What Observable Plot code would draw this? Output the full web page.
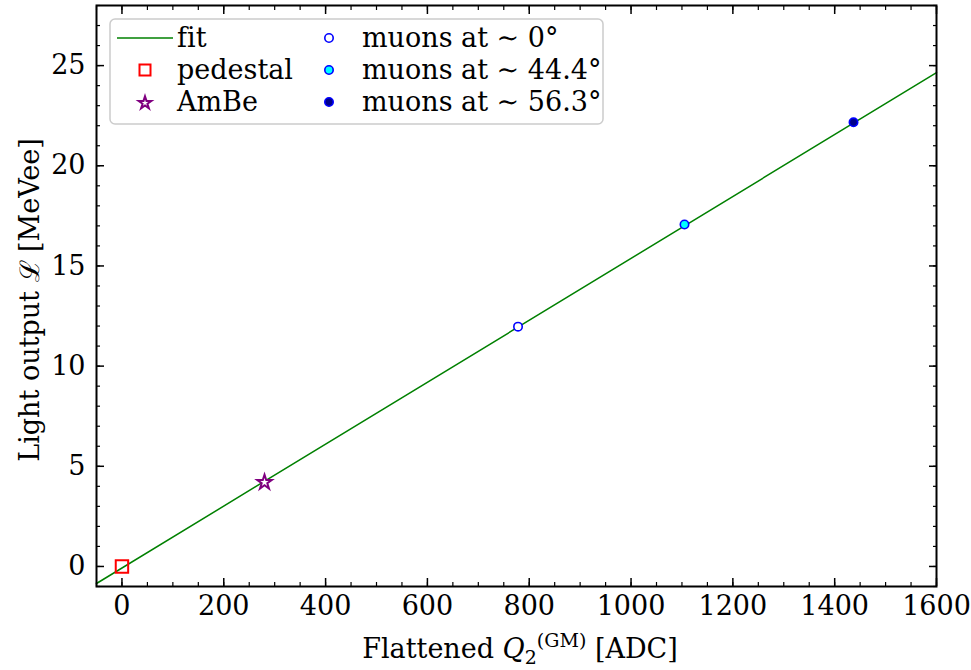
<!DOCTYPE html>
<html><head><meta charset="utf-8">
<script src="https://cdn.jsdelivr.net/npm/d3@7"></script>
<script src="https://cdn.jsdelivr.net/npm/@observablehq/plot@0.6"></script>
<style>
body{margin:0;background:#fff;}
#wrap{position:relative;width:971px;height:670px;}
svg, svg text{font-family:"DejaVu Serif",serif !important;font-variant-ligatures:none;}
</style></head><body><div id="wrap"></div>
<script>
// fit line end points
const fitX = [-50, 1600];
const fitY = [-0.85, 24.65];
// calibration points
const pointLabels = ["pedestal", "AmBe", "muons at ∼ 0°", "muons at ∼ 44.4°", "muons at ∼ 56.3°"];
const pointX = [0, 280, 778, 1105, 1437];
const pointY = [0, 4.2, 11.97, 17.07, 22.17];
const pointSymbol = ["square", "star", "circle", "circle", "circle"];
const pointFill = ["none", "white", "white", "#00ffff", "#00008b"];
const pointStroke = ["red", "purple", "blue", "blue", "blue"];
// ticks
const xTicks = [0, 200, 400, 600, 800, 1000, 1200, 1400, 1600];
const yTicks = [0, 5, 10, 15, 20, 25];
const xMinor = d3.range(-50, 1601, 50);
const yMinor = d3.range(-1, 29, 1);

const fit = fitX.map((x, i) => ({x, y: fitY[i]}));
const pts = pointX.map((x, i) => ({label: pointLabels[i], x, y: pointY[i], symbol: pointSymbol[i], fill: pointFill[i], stroke: pointStroke[i]}));

const fs = 27;
const ff = "DejaVu Serif";
const chart = Plot.plot({
  width: 971, height: 670,
  marginLeft: 96, marginRight: 35, marginTop: 5, marginBottom: 84,
  style: {fontFamily: "'DejaVu Serif', serif", fontSize: fs + "px", color: "black", background: "white"},
  x: {domain: [-50, 1600]},
  y: {domain: [-1, 28]},
  marks: [
    Plot.line(fit, {x: "x", y: "y", stroke: "green", strokeWidth: 1.5}),
    Plot.dot(pts.filter(d => d.symbol === "square"), {x: "x", y: "y", symbol: "square", r: 7, fill: "none", stroke: d => d.stroke, strokeWidth: 2}),
    Plot.dot(pts.filter(d => d.symbol === "star"), {x: "x", y: "y", symbol: "star", r: 4.6, fill: d => d.fill, stroke: d => d.stroke, strokeWidth: 2}),
    Plot.dot(pts.filter(d => d.symbol === "circle"), {x: "x", y: "y", r: 4.2, fill: d => d.fill, stroke: d => d.stroke, strokeWidth: 1.6}),
    Plot.axisX({ticks: xTicks, tickSize: -8, tickPadding: 17, tickFormat: d => String(d), label: null, strokeWidth: 1.5, fontSize: fs, fontFamily: ff}),
    Plot.axisX({ticks: xMinor, tickSize: -4, text: null, label: null, strokeWidth: 1.2}),
    Plot.axisX({anchor: "top", ticks: xTicks, tickSize: -8, text: null, label: null, strokeWidth: 1.5}),
    Plot.axisX({anchor: "top", ticks: xMinor, tickSize: -4, text: null, label: null, strokeWidth: 1.2}),
    Plot.axisY({ticks: yTicks, tickSize: -8, tickPadding: 19, tickFormat: d => String(d), label: null, strokeWidth: 1.5, fontSize: fs, fontFamily: ff}),
    Plot.axisY({ticks: yMinor, tickSize: -4, text: null, label: null, strokeWidth: 1.2}),
    Plot.axisY({anchor: "right", ticks: yTicks, tickSize: -8, text: null, label: null, strokeWidth: 1.5}),
    Plot.axisY({anchor: "right", ticks: yMinor, tickSize: -4, text: null, label: null, strokeWidth: 1.2}),
    Plot.frame({stroke: "black", strokeWidth: 2})
  ]
});
document.getElementById("wrap").appendChild(chart);

const svg = d3.select(chart);
// axis labels
const xl = svg.append("text").attr("x", 520).attr("y", 658).attr("text-anchor", "middle")
  .attr("font-family", ff).attr("font-size", fs + "px").attr("fill", "black");
xl.append("tspan").text("Flattened ");
xl.append("tspan").attr("font-style", "italic").text("Q");
xl.append("tspan").attr("font-size", "19px").attr("dy", 6).text("2");
xl.append("tspan").attr("font-size", "19px").attr("dy", -17).attr("dx", 0).text("(GM)");
xl.append("tspan").attr("dy", 11).text(" [ADC]");

svg.append("text").attr("transform", "translate(39,300) rotate(-90)").attr("text-anchor", "middle")
  .attr("font-family", ff).attr("font-size", fs + "px").attr("fill", "black").text("Light output ℒ [MeVee]");

// legend
const lg = svg.append("g").attr("transform", "translate(110,19)");
lg.append("rect").attr("width", 493).attr("height", 105).attr("rx", 5)
  .attr("fill", "white").attr("fill-opacity", 0.8).attr("stroke", "#cccccc").attr("stroke-width", 1.5);
const rows = [
  {kind: "line", label: "fit", col: 0, row: 0},
  {kind: "square", label: pointLabels[0], col: 0, row: 1, stroke: pointStroke[0], fill: "none"},
  {kind: "star", label: pointLabels[1], col: 0, row: 2, stroke: pointStroke[1], fill: pointFill[1]},
  {kind: "circle", label: pointLabels[2], col: 1, row: 0, stroke: pointStroke[2], fill: pointFill[2]},
  {kind: "circle", label: pointLabels[3], col: 1, row: 1, stroke: pointStroke[3], fill: pointFill[3]},
  {kind: "circle", label: pointLabels[4], col: 1, row: 2, stroke: pointStroke[4], fill: pointFill[4]}
];
rows.forEach(r => {
  const cy = 19 + r.row * 32;
  const cx = r.col === 0 ? 35 : 219;
  const tx = r.col === 0 ? 67 : 252;
  if (r.kind === "line") {
    lg.append("line").attr("x1", cx - 28).attr("x2", cx + 28).attr("y1", cy).attr("y2", cy).attr("stroke", "green").attr("stroke-width", 1.5);
  } else if (r.kind === "square") {
    lg.append("rect").attr("x", cx - 5.5).attr("y", cy - 5.5).attr("width", 11).attr("height", 11).attr("fill", "none").attr("stroke", r.stroke).attr("stroke-width", 2);
  } else if (r.kind === "star") {
    lg.append("path").attr("transform", `translate(${cx},${cy + 1})`).attr("d", d3.symbol(d3.symbolStar, Math.PI * 16)()).attr("fill", r.fill).attr("stroke", r.stroke).attr("stroke-width", 2);
  } else {
    lg.append("circle").attr("cx", cx).attr("cy", cy).attr("r", 4.2).attr("fill", r.fill).attr("stroke", r.stroke).attr("stroke-width", 1.6);
  }
  lg.append("text").attr("x", tx).attr("y", cy).attr("dy", "0.35em").attr("text-anchor", "start")
    .attr("font-family", ff).attr("font-size", fs + "px").attr("fill", "black").text(r.label);
});
</script>
</body></html>
